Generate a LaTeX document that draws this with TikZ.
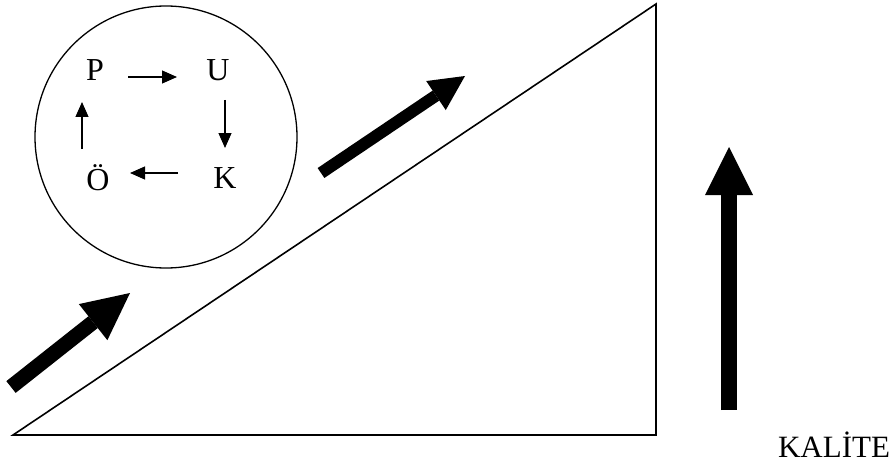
\documentclass[tikz,border=0pt]{standalone}
\usepackage{fontspec}
\setmainfont{Liberation Serif}
\usetikzlibrary{arrows.meta}

\begin{document}
\begin{tikzpicture}[x=1pt,y=-1pt,
    letter/.style={font=\fontsize{32}{38}\selectfont,inner sep=2pt},
    cyc/.style={line width=1.2pt,-{Triangle[length=15pt,width=13pt]}},
    fat/.style n args={3}{line width=#1,-{Triangle[length=#2,width=#3,line width=0pt]}}]
  \useasboundingbox (0,0) rectangle (896,468);
  % quality wedge
  \draw[line width=1.6pt] (13,435) -- (656,435) -- (656,4) -- cycle;
  % PUKO circle
  \node[draw,circle,minimum size=262pt,line width=1.3pt] (loop) at (166,137) {};
  \node[letter] (p) at (95,70) {P};
  \node[letter] (u) at (218,70) {U};
  \node[letter] (k) at (225,178) {K};
  \node[letter] (o) at (98,178) {Ö};
  \draw[cyc,shorten <=33pt,shorten >=41pt] ([yshift=-7pt]p.center) -- ([yshift=-7pt]u.center);
  \draw[cyc,shorten <=30pt,shorten >=30pt] ([xshift=7pt]u.center) -- (k.center);
  \draw[cyc,shorten <=47pt,shorten >=32pt] ([yshift=5pt]k.center) -- ([yshift=5pt]o.center);
  \draw[cyc,shorten <=29pt,shorten >=32pt] ([xshift=-16pt]o.center) -- ([xshift=-13pt]p.center);
  % big arrows
  \draw[fat={15pt}{47pt}{46pt}] (11,387) -- (130,293);
  \draw[fat={12pt}{35pt}{35pt}] (321,173) -- (465,76);
  \draw[fat={16pt}{48pt}{48pt}] (729,410) -- (729,147);
  \node[font=\fontsize{31}{37}\selectfont] (kalite) at (834,445) {KALİTE};
\end{tikzpicture}
\end{document}
